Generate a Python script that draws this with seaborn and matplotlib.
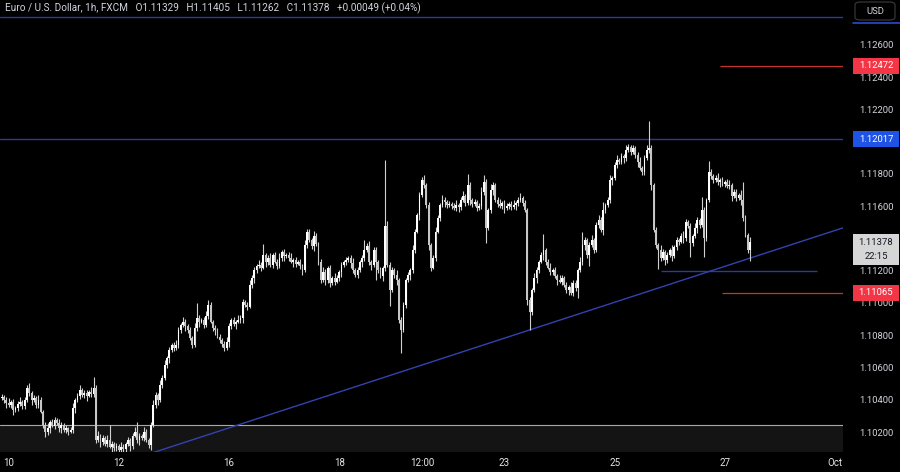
import numpy as np
import pandas as pd
import matplotlib
matplotlib.use("Agg")
import matplotlib.pyplot as plt
import matplotlib.transforms as mtransforms
from matplotlib.patches import Rectangle, FancyBboxPatch
import seaborn as sns

# ---------------- data ----------------
first_open = 1.10410
close = [
    1.10418, 1.10399, 1.10381, 1.10368, 1.10387, 1.10337, 1.10349, 1.10374, 1.10387, 1.10362,
    1.10399, 1.10473, 1.10443, 1.10399, 1.10411, 1.10368, 1.10399, 1.10325, 1.10244, 1.10201,
    1.10223, 1.10263, 1.10238, 1.10275, 1.10253, 1.10223, 1.10244, 1.10213, 1.10223, 1.10201,
    1.10213, 1.10349, 1.10399, 1.10424, 1.10461, 1.10430, 1.10443, 1.10424, 1.10449, 1.10436,
    1.10473, 1.10151, 1.10176, 1.10139, 1.10163, 1.10126, 1.10151, 1.10108, 1.10126, 1.10102,
    1.10114, 1.10089, 1.10108, 1.10095, 1.10126, 1.10151, 1.10114, 1.10176, 1.10201, 1.10151,
    1.10176, 1.10163, 1.10201, 1.10151, 1.10120, 1.10244, 1.10368, 1.10430, 1.10399, 1.10492,
    1.10535, 1.10616, 1.10659, 1.10709, 1.10740, 1.10721, 1.10740, 1.10833, 1.10864, 1.10883,
    1.10858, 1.10833, 1.10783, 1.10740, 1.10845, 1.10907, 1.10883, 1.10895, 1.10864, 1.10920,
    1.10988, 1.10883, 1.10845, 1.10833, 1.10790, 1.10771, 1.10746, 1.10721, 1.10759, 1.10858,
    1.10895, 1.10870, 1.10883, 1.10895, 1.10907, 1.11007, 1.10988, 1.10976, 1.11112, 1.11155,
    1.11205, 1.11230, 1.11236, 1.11218, 1.11298, 1.11255, 1.11279, 1.11236, 1.11298, 1.11255,
    1.11230, 1.11279, 1.11317, 1.11292, 1.11298, 1.11279, 1.11255, 1.11267, 1.11243, 1.11255,
    1.11230, 1.11205, 1.11360, 1.11441, 1.11391, 1.11354, 1.11416, 1.11366, 1.11255, 1.11143,
    1.11193, 1.11143, 1.11218, 1.11121, 1.11155, 1.11131, 1.11155, 1.11193, 1.11236, 1.11255,
    1.11267, 1.11279, 1.11249, 1.11205, 1.11174, 1.11205, 1.11255, 1.11279, 1.11329, 1.11354,
    1.11255, 1.11236, 1.11329, 1.11255, 1.11205, 1.11168, 1.11218, 1.11478, 1.11236, 1.11081,
    1.11205, 1.11174, 1.11143, 1.10895, 1.10833, 1.10988, 1.11143, 1.11174, 1.11205, 1.11329,
    1.11441, 1.11546, 1.11670, 1.11763, 1.11732, 1.11608, 1.11360, 1.11218, 1.11279, 1.11441,
    1.11527, 1.11608, 1.11639, 1.11627, 1.11608, 1.11614, 1.11602, 1.11589, 1.11608, 1.11596,
    1.11639, 1.11664, 1.11620, 1.11732, 1.11639, 1.11614, 1.11627, 1.11589, 1.11602, 1.11689,
    1.11751, 1.11465, 1.11577, 1.11701, 1.11732, 1.11639, 1.11614, 1.11602, 1.11620, 1.11589,
    1.11602, 1.11614, 1.11596, 1.11608, 1.11620, 1.11639, 1.11651, 1.11620, 1.11577, 1.11019,
    1.10945, 1.11081, 1.11155, 1.11205, 1.11255, 1.11298, 1.11329, 1.11255, 1.11218, 1.11193,
    1.11205, 1.11168, 1.11143, 1.11131, 1.11155, 1.11112, 1.11081, 1.11100, 1.11062, 1.11125,
    1.11093, 1.11205, 1.11255, 1.11360, 1.11391, 1.11298, 1.11360, 1.11391, 1.11329, 1.11484,
    1.11515, 1.11453, 1.11577, 1.11608, 1.11639, 1.11763, 1.11775, 1.11856, 1.11887, 1.11875,
    1.11912, 1.11899, 1.11949, 1.11968, 1.11937, 1.11961, 1.11918, 1.11875, 1.11837, 1.11813,
    1.11899, 1.11949, 1.11961, 1.11732, 1.11453, 1.11360, 1.11329, 1.11279, 1.11317, 1.11267,
    1.11298, 1.11329, 1.11292, 1.11348, 1.11391, 1.11379, 1.11416, 1.11403, 1.11503, 1.11478,
    1.11373, 1.11416, 1.11465, 1.11515, 1.11484, 1.11577, 1.11403, 1.11639, 1.11813, 1.11788,
    1.11763, 1.11775, 1.11751, 1.11763, 1.11738, 1.11751, 1.11726, 1.11732, 1.11664, 1.11689,
    1.11651, 1.11670, 1.11639, 1.11527, 1.11422, 1.11329, 1.11378,
]
wick_up_pips = [
    2, 1, 2, 3, 1, 2, 1, 2, 3, 1,  2, 2, 3, 1, 2, 1, 3, 2, 1, 2,
    3, 1, 2, 2, 1, 3, 2, 1, 2, 1,  2, 3, 1, 2, 3, 1, 2, 2, 1, 3,
    7, 2, 3, 1, 2, 1, 3, 9, 2, 1,  2, 1, 3, 2, 1, 2, 1, 2, 3, 6,
    2, 1, 3, 2, 1, 2, 3, 2, 1, 3,  2, 3, 1, 2, 1, 2, 3, 2, 1, 3,
    2, 1, 2, 1, 3, 9, 2, 1, 2, 3,  3, 2, 1, 2, 1, 2, 1, 2, 3, 2,
    1, 2, 1, 3, 2, 2, 1, 2, 3, 2,  2, 1, 3, 2, 7, 1, 2, 3, 1, 2,
    2, 3, 1, 2, 1, 2, 3, 1, 2, 1,  2, 1, 3, 2, 2, 1, 3, 2, 1, 2,
    3, 2, 1, 2, 1, 3, 2, 1, 2, 1,  2, 1, 2, 3, 1, 2, 1, 2, 6, 2,
    3, 1, 2, 2, 1, 2, 1, 41, 3, 2, 2, 1, 3, 1, 2, 2, 1, 2, 1, 3,
    2, 1, 2, 2, 3, 1, 2, 1, 2, 3,  2, 1, 3, 2, 1, 2, 1, 2, 3, 1,
    2, 3, 1, 7, 2, 1, 2, 1, 2, 3,  4, 2, 1, 4, 2, 1, 2, 3, 1, 2,
    2, 1, 2, 3, 1, 2, 3, 1, 2, 1,  2, 1, 3, 2, 1, 2, 10, 1, 2, 3,
    1, 2, 1, 3, 2, 1, 2, 1, 3, 2,  2, 1, 3, 8, 2, 1, 2, 3, 1, 2,
    3, 2, 5, 1, 2, 3, 1, 2, 3, 1,  2, 1, 3, 2, 1, 2, 1, 2, 3, 1,
    2, 3, 17, 2, 1, 2, 1, 3, 2, 1, 2, 1, 3, 1, 2, 1, 2, 3, 2, 1,
    2, 1, 3, 2, 1, 8, 2, 1, 7, 2,  1, 2, 3, 1, 2, 1, 2, 3, 1, 2,
    2, 1, 3, 11, 2, 1, 3,
]
wick_dn_pips = [
    1, 2, 3, 1, 2, 3, 1, 2, 1, 2,  2, 1, 2, 3, 1, 2, 2, 1, 2, 3,
    2, 3, 1, 2, 1, 2, 3, 1, 2, 2,  1, 2, 3, 1, 2, 1, 2, 3, 1, 2,
    2, 2, 1, 3, 2, 1, 2, 1, 3, 2,  2, 3, 1, 2, 2, 1, 3, 2, 1, 2,
    3, 1, 2, 1, 2, 3, 1, 2, 3, 1,  2, 1, 2, 3, 1, 2, 1, 2, 2, 1,
    3, 2, 1, 2, 1, 2, 3, 1, 2, 1,  2, 1, 2, 3, 1, 2, 2, 2, 1, 3,
    2, 1, 3, 1, 2, 3, 1, 2, 1, 2,  3, 2, 1, 2, 1, 3, 2, 1, 2, 1,
    2, 1, 2, 3, 1, 2, 1, 3, 2, 1,  2, 3, 1, 2, 1, 2, 3, 1, 2, 2,
    1, 3, 2, 2, 1, 2, 1, 2, 3, 1,  2, 1, 3, 2, 1, 2, 1, 3, 2, 1,
    2, 3, 1, 11, 2, 1, 3, 2, 1, 10, 1, 2, 3, 2, 14, 1, 2, 1, 3, 2,
    2, 1, 3, 1, 2, 2, 3, 2, 1, 2,  1, 2, 1, 3, 2, 1, 2, 1, 2, 3,
    2, 1, 2, 1, 3, 2, 1, 2, 1, 2,  2, 9, 1, 2, 3, 1, 2, 1, 2, 3,
    1, 2, 2, 1, 3, 2, 1, 2, 1, 3,  11, 2, 1, 3, 2, 1, 3, 2, 1, 2,
    2, 1, 3, 1, 2, 1, 2, 3, 1, 2,  2, 6, 1, 2, 3, 2, 7, 1, 2, 1,
    2, 1, 3, 2, 1, 2, 3, 1, 2, 1,  1, 3, 2, 1, 2, 1, 2, 3, 1, 2,
    2, 1, 2, 3, 1, 2, 12, 2, 1, 3, 2, 1, 3, 1, 2, 2, 1, 3, 2, 1,
    9, 2, 1, 3, 2, 1, 12, 2, 1, 2, 2, 1, 2, 3, 1, 2, 1, 2, 3, 1,
    2, 1, 3, 2, 1, 2, 7,
]

tick_pos = [3, 51, 99, 147, 183, 219, 267, 315, 363]
tick_labels = ["10", "12", "16", "18", "12:00", "23", "25", "27", "Oct"]
price_ticks = [1.102, 1.104, 1.106, 1.108, 1.110, 1.112, 1.114,
               1.116, 1.118, 1.120, 1.122, 1.124, 1.126]
hidden_ticks = [1.114, 1.120]   # covered by the price tags in the reference

top_level = 1.12774
resistance = 1.12017
upper_target = 1.12472
lower_target = 1.11065
support_short = 1.11200
support_short_span = [287, 355]
target_start = [313, 314]
zone_top = 1.10243
trend_anchor_x = [67, 230]
trend_anchor_y = [1.10077, 1.10833]
last_price = 1.11378
countdown = "22:15"
title = "Euro / U.S. Dollar, 1h, FXCM"
ohlc_text = "O1.11329   H1.11405   L1.11262   C1.11378   +0.00049 (+0.04%)"

# ---------------- build table ----------------
opens = [first_open] + close[:-1]
df = pd.DataFrame({"k": np.arange(len(close)), "open": opens, "close": close,
                   "up": wick_up_pips, "dn": wick_dn_pips})
df["top"] = df[["open", "close"]].max(axis=1)
df["bot"] = df[["open", "close"]].min(axis=1)
df["high"] = df["top"] + df["up"] * 1e-4
df["low"] = df["bot"] - df["dn"] * 1e-4
df["rise"] = df["close"] >= df["open"]

# ---------------- style ----------------
sns.set_theme(style="dark")
plt.rcParams["font.family"] = ["Roboto", "DejaVu Sans"]
BG = "#000000"
TXT = "#d1d4dc"
NAVY = "#2b3a9c"

W, H = 900, 472
fig = plt.figure(figsize=(W / 100, H / 100), dpi=100, facecolor=BG)
ax = fig.add_axes([0, 20 / H, 843 / W, 452 / H])
ax.set_facecolor(BG)
for s in ax.spines.values():
    s.set_visible(False)
ax.grid(False)

xmin, xmax = -0.75, 366.5
ymin, ymax = 1.10076, 1.12879
ax.set_xlim(xmin, xmax)
ax.set_ylim(ymin, ymax)

# lower zone
ax.axhspan(ymin, zone_top, color="#141414", zorder=0)
ax.axhline(zone_top, color="#a8a8a8", lw=0.8, zorder=1)

# horizontal levels
ax.axhline(top_level, color=NAVY, lw=1.0, zorder=1)
ax.axhline(resistance, color=NAVY, lw=1.0, zorder=1)
ax.hlines(support_short, support_short_span[0], support_short_span[1], color=NAVY, lw=1.0, zorder=1)
ax.hlines(upper_target, target_start[0], xmax, color="#c8322e", lw=0.9, zorder=1)
ax.hlines(lower_target, target_start[1], xmax, color="#c8322e", lw=0.9, zorder=1)

# trend line through two anchors
slope = (trend_anchor_y[1] - trend_anchor_y[0]) / (trend_anchor_x[1] - trend_anchor_x[0])
tx = np.array([trend_anchor_x[0] - 5, xmax])
ty = trend_anchor_y[0] + slope * (tx - trend_anchor_x[0])
sns.lineplot(x=tx, y=ty, color="#3442b0", lw=1.0, ax=ax, zorder=2)

# candles
ax.vlines(df["k"], df["low"], df["high"], color="#d0d0d0", lw=0.8, zorder=3)
heights = np.maximum(df["top"] - df["bot"], 0.00002)
cols = np.where(df["rise"], "#ffffff", "#c6c6c6")
ax.bar(df["k"], heights, bottom=df["bot"], width=0.8, color=cols, linewidth=0, zorder=4)

# axes ticks
ax.set_xticks(tick_pos)
ax.set_xticklabels(tick_labels)
ax.tick_params(axis="x", length=0, pad=4, labelsize=7, labelcolor="#e6e6e6")
ax.yaxis.tick_right()
ax.set_yticks(price_ticks)
ax.set_yticklabels(["" if any(abs(v - h) < 1e-9 for h in hidden_ticks) else f"{v:.5f}"
                    for v in price_ticks])
ax.tick_params(axis="y", length=0, pad=12, labelsize=6.8, labelcolor=TXT)

# price tags on the right axis
blend = mtransforms.blended_transform_factory(fig.transFigure, ax.transData)
ppx = (ymax - ymin) / 452.0


def tag(price, text, fc, tc, h_px=16):
    r = Rectangle((853 / W, price - h_px / 2 * ppx), 46 / W, h_px * ppx,
                  transform=blend, facecolor=fc, edgecolor="none", clip_on=False, zorder=10)
    fig.add_artist(r)
    fig.text(876 / W, ax.transData.transform((0, price))[1] / H, text, ha="center", va="center",
             color=tc, fontsize=6.8, zorder=11)


tag(upper_target, "1.12472", "#f23645", "#ffffff")
tag(resistance, "1.12017", "#1e53e5", "#ffffff")
tag(lower_target, "1.11065", "#f23645", "#ffffff")

# last price tag (two lines)
yl = ax.transData.transform((0, last_price))[1]
fig.add_artist(Rectangle((853 / W, (yl - 23) / H), 46 / W, 31 / H, transform=fig.transFigure,
                         facecolor="#d6d6d6", edgecolor="none", zorder=10))
fig.text(876 / W, yl / H, f"{last_price:.5f}", ha="center", va="center",
         color="#131722", fontsize=6.8, zorder=11)
fig.text(876 / W, (yl - 14) / H, countdown, ha="center", va="center",
         color="#131722", fontsize=6.8, zorder=11)

# USD button
fig.add_artist(FancyBboxPatch((855 / W, (H - 20) / H), 40 / W, 18 / H,
                              boxstyle="round,pad=0,rounding_size=0.006",
                              transform=fig.transFigure, facecolor=BG,
                              edgecolor="#3c3c3c", lw=0.8, zorder=10))
fig.text(875 / W, (H - 11) / H, "USD", ha="center", va="center", color=TXT,
         fontsize=6.8, zorder=12)
fig.add_artist(plt.Line2D([853 / W, 1.0], [(H - 23) / H] * 2, transform=fig.transFigure,
                          color="#2a4bd0", lw=1.2))

# header text
fig.text(5 / W, (H - 8) / H, title + "   " + ohlc_text, ha="left", va="center",
         color=TXT, fontsize=7.2)

fig.savefig("out.png", dpi=100, facecolor=BG)
